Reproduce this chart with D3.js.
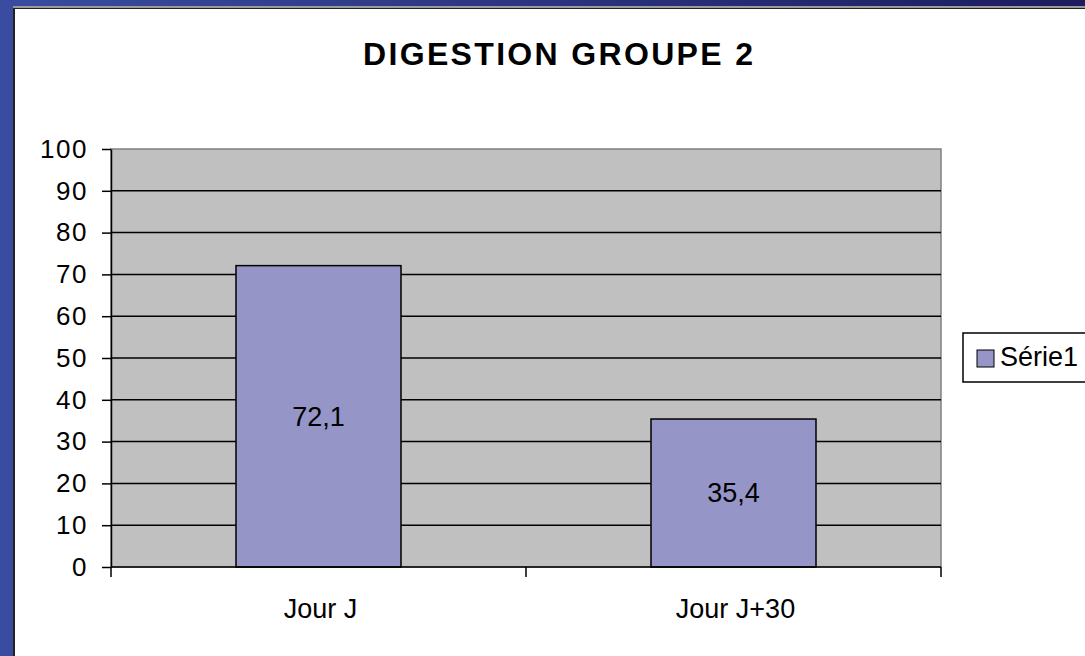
<!DOCTYPE html>
<html>
<head>
<meta charset="utf-8">
<script src="https://cdn.jsdelivr.net/npm/d3@7"></script>
<style>
  html, body { margin: 0; padding: 0; background: #3a4ca0; overflow: hidden; }
  svg { display: block; font-family: "Liberation Sans", Arial, sans-serif; }
</style>
</head>
<body>
<svg id="chart" width="1085" height="656"></svg>
<script>
// chart data
const title = "DIGESTION GROUPE 2"
const categories = ["Jour J", "Jour J+30"]
const serie1 = [72.1, 35.4]
const seriesName = "Série1"
const yTicks = [0, 10, 20, 30, 40, 50, 60, 70, 80, 90, 100]

const width = 1085, height = 656
const plotL = 111, plotR = 941, plotT = 149, plotB = 567

const svg = d3.select("#chart")

// slide background: blue frame + white panel
const grad = svg.append("defs").append("linearGradient")
    .attr("id", "topband").attr("x1", 0).attr("x2", 1)
grad.append("stop").attr("offset", 0).attr("stop-color", "#3a4ca0")
grad.append("stop").attr("offset", 1).attr("stop-color", "#1c1c5e")
svg.append("rect").attr("width", width).attr("height", height).attr("fill", "#3a4ca0")
svg.append("rect").attr("width", width).attr("height", 7).attr("fill", "url(#topband)")
svg.append("rect").attr("x", 13).attr("y", 6).attr("width", width).attr("height", height)
   .attr("fill", "#9a9a9a")
svg.append("rect").attr("x", 13).attr("y", 8).attr("width", width).attr("height", height)
   .attr("fill", "#222")
svg.append("rect").attr("x", 15).attr("y", 9).attr("width", width).attr("height", height)
   .attr("fill", "#fff")

const x = d3.scaleBand().domain(categories).range([plotL, plotR])
    .paddingInner(0.6024).paddingOuter(0.3012)
const y = d3.scaleLinear().domain([0, 100]).range([plotB, plotT])
const fr = d3.formatLocale({decimal: ",", thousands: " ", grouping: [3], currency: ["", " €"]})
const fmt = fr.format(".1f")

// plot area
svg.append("rect")
   .attr("x", plotL).attr("y", plotT)
   .attr("width", plotR - plotL).attr("height", plotB - plotT)
   .attr("fill", "#c0c0c0").attr("stroke", "#808080").attr("stroke-width", 1.5)

// gridlines
svg.append("g").selectAll("line")
   .data(yTicks.filter(d => d > 0 && d < 100))
   .join("line")
   .attr("x1", plotL).attr("x2", plotR)
   .attr("y1", d => y(d)).attr("y2", d => y(d))
   .attr("stroke", "#000").attr("stroke-width", 1.5)

// bars
svg.append("g").selectAll("rect")
   .data(serie1)
   .join("rect")
   .attr("x", (d, i) => x(categories[i]))
   .attr("y", d => y(d))
   .attr("width", x.bandwidth())
   .attr("height", d => y(0) - y(d))
   .attr("fill", "#9595c8").attr("stroke", "#000").attr("stroke-width", 1.5)

// data labels
svg.append("g").selectAll("text")
   .data(serie1)
   .join("text")
   .attr("x", (d, i) => x(categories[i]) + x.bandwidth() / 2)
   .attr("y", d => y(d / 2))
   .attr("dy", "0.35em")
   .attr("text-anchor", "middle")
   .attr("font-size", 27)
   .attr("fill", "#000")
   .text(d => fmt(d))

// y axis
const yAxis = d3.axisLeft(y).tickValues(yTicks).tickSize(9).tickPadding(14).tickSizeOuter(0)
const yg = svg.append("g").attr("transform", `translate(${plotL},0)`).call(yAxis)
yg.select(".domain").attr("stroke", "#000").attr("stroke-width", 1.5)
yg.selectAll(".tick line").attr("stroke", "#000").attr("stroke-width", 1.5)
yg.selectAll(".tick text")
  .attr("font-size", 26).attr("letter-spacing", 1.5).attr("fill", "#000")
  .attr("font-family", "Liberation Sans, Arial, sans-serif")

// x axis line + category separators
svg.append("line")
   .attr("x1", plotL).attr("x2", plotR).attr("y1", plotB).attr("y2", plotB)
   .attr("stroke", "#000").attr("stroke-width", 1.5)
const step = x.step()
const bounds = [x(categories[0]) - x.paddingInner() * step / 2]
categories.forEach(c => bounds.push(x(c) + x.bandwidth() + x.paddingInner() * step / 2))
svg.append("g").selectAll("line")
   .data(bounds)
   .join("line")
   .attr("x1", d => d).attr("x2", d => d)
   .attr("y1", plotB).attr("y2", plotB + 10)
   .attr("stroke", "#000").attr("stroke-width", 1.5)

svg.append("g").selectAll("text")
   .data(categories)
   .join("text")
   .attr("x", d => x(d) + x.bandwidth() / 2 + 2)
   .attr("y", 618)
   .attr("text-anchor", "middle")
   .attr("font-size", 27)
   .attr("fill", "#000")
   .text(d => d)

// title
svg.append("text")
   .attr("x", 558).attr("y", 65)
   .attr("text-anchor", "middle")
   .attr("font-size", 32).attr("font-weight", "bold")
   .attr("textLength", 390).attr("lengthAdjust", "spacing")
   .attr("fill", "#000")
   .text(title)

// legend
const lg = svg.append("g").attr("transform", "translate(963,333)")
lg.append("rect").attr("width", 140).attr("height", 49)
  .attr("fill", "#fff").attr("stroke", "#000").attr("stroke-width", 1.5)
lg.append("rect").attr("x", 14).attr("y", 17).attr("width", 17).attr("height", 17)
  .attr("fill", "#9595c8").attr("stroke", "#000").attr("stroke-width", 1)
lg.append("text").attr("x", 37).attr("y", 33)
  .attr("font-size", 27).attr("fill", "#000")
  .text(seriesName)
</script>
</body>
</html>
